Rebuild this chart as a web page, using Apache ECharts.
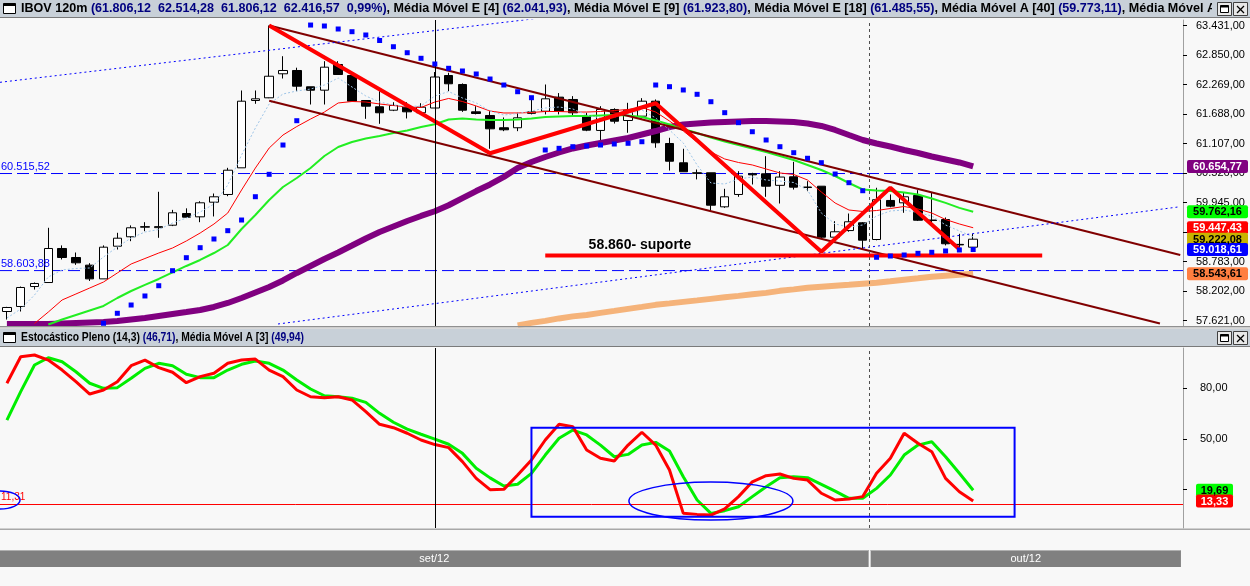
<!DOCTYPE html>
<html>
<head>
<meta charset="utf-8">
<title>IBOV 120m</title>
<script src="https://cdn.jsdelivr.net/npm/echarts@6.0.0/dist/echarts.min.js"></script>
<style>
html,body{margin:0;padding:0;background:#f8f8f8;overflow:hidden;}
#chart{width:1250px;height:586px;}
</style>
</head>
<body>
<div id="chart"></div>
<script>
// ---------------- DATA ----------------
const opens = [57798,57897,58290,58369,59039,58862,58711,58441,59084,59270,59458,59450,59498,59728,59663,59951,60103,60628,61954,62007,62480,62545,62224,62157,62663,62446,61954,61830,61763,61822,61712,61806.12,62446,62269,61731,61659,61417,61417,61700,61743,62020,61974,61633,61364,61777,61560,61645,61940,61107,60727,60530,60530,59860,60103,60510,60510,60283,60451,60250,60266,59262,59392,59545,59216,59985,59939,60083,59600,59610,59120,59065];
const closes = [57877,58271,58350,59039,58862,58757,58441,59065,59242,59447,59470,59470,59742,59656,59939,60057,60581,61940,61987,62432,62545,62236,62157,62610,62466,61940,61842,61712,61856,61731,61822,62416.57,62283,61763,61698,61396,61377,61613,61730,61987,61743,61712,61370,61777,61546,61763,61940,61121,60758,60550,60520,59892,60057,60464,60490,60266,60446,60247,60240,59262,59368,59565,59203,60000,59873,60057,59596,59590,59132,59110,59222.08];
const lows = [57640,57798,58230,58369,58823,58717,58400,58441,59019,59183,59380,59250,59480,59640,59557,59670,60069,60628,61889,62000,62387,62137,61875,61875,62466,61940,61593,61495,61745,61600,61700,61806.12,62137,61730,61680,61003,61350,61350,61680,61680,61680,61650,61350,61152,61500,61318,61600,61023,60575,60550,60400,59774,59840,60057,60300,60057,59925,60200,60168,59230,59230,59370,59019,59200,59850,59742,59580,59545,59100,59019,59050];
const highs = [57890,58290,58370,59447,59100,58960,58750,59100,59348,59494,59557,60156,59800,59830,59970,60122,60628,62151,62151,63431,62826,62600,62224,62728,62728,62446,61954,62137,61920,61920,61900,62514.28,62500,62290,61842,61743,61620,61712,62040,62269,62100,62040,61712,61842,61800,61908,62000,61974,61219,61003,60595,60530,60215,60562,60530,60857,60562,60746,60365,60266,59577,59728,59560,60235,60103,60135,60188,60135,59650,59328,59328];

const ema4 = [57670,57847,58123,58478,58616,58646,58655,58872,59069,59246,59364,59413,59541,59640,59758,59915,60289,60880,61412,61885,62082,62141,62180,62259,62397,62220,62043,61924,61865,61836,61846,62041.93,62131,62003,61905,61747,61668,61698,61747,61806,61826,61787,61668,61609,61629,61688,61767,61609,61373,61117,60684,60329,60309,60408,60447,60388,60368,60339,60191,59738,59522,59462,59502,59679,59778,59797,59748,59679,59502,59384,59266];
const ema9 = [null,null,57562,57788,58025,58143,58261,58379,58557,58734,58842,58950,59049,59187,59344,59521,59738,60191,60624,61018,61274,61441,61589,61727,61905,61934,61924,61885,61855,61826,61816,61923.80,61994,61934,61846,61747,61708,61708,61718,61737,61737,61727,61727,61737,61757,61777,61816,61727,61550,61353,61137,60940,60802,60733,60684,60605,60526,60497,60388,60152,59935,59797,59768,59787,59827,59866,59817,59738,59610,59522,59447.43];
const ema18 = [null,null,null,57542,57641,57730,57818,57907,58064,58202,58321,58439,58567,58695,58813,58950,59108,59423,59698,59994,60250,60428,60624,60861,61038,61137,61205,61255,61314,61363,61432,61485.55,61580,61600,61580,61570,61570,61580,61600,61629,61639,61649,61649,61659,61668,61659,61629,61560,61481,61393,61314,61225,61146,61077,61009,60939,60861,60782,60684,60585,60467,60329,60201,60181,60171,60142,60102,60024,59937,59839,59762.16];
const sma40 = [57552,57552,57552,57552,57562,57572,57582,57592,57611,57641,57670,57710,57749,57788,57828,57887,57966,58064,58173,58281,58409,58557,58695,58833,58961,59098,59236,59364,59473,59581,59680,59773.11,59890,60030,60170,60300,60450,60625,60743,60841,60930,61009,61067,61117,61166,61215,61284,61353,61432,61481,61501,61520,61530,61540,61550,61550,61540,61530,61501,61452,61373,61274,61176,61107,61048,60979,60920,60851,60792,60733,60654.77];
const smaLong = [null,null,null,null,null,null,null,null,null,null,null,null,null,null,null,null,null,null,null,null,null,null,null,null,null,null,null,null,null,null,null,null,null,null,null,null,null,57525,57574,57613,57662,57702,57731,57771,57810,57850,57889,57929,57958,57988,58017,58047,58077,58106,58136,58165,58205,58234,58264,58284,58304,58323,58343,58363,58392,58422,58451,58481,58501,58520,58543.61];
const sar = [null,null,null,null,null,null,null,57566,57763,57926,58104,58306,58602,58858,59055,59226,59390,59600,60059,60500,61077,61556,63440,63421,63362,63309,63244,63136,63013,62895,62785,62673,62588,62535,62476,62377,62259,62127,62009,60979,61012,61044,61058,61077,61097,61111,61142,62259,62226,62161,62076,61930,61714,61517,61339,61176,61044,60926,60816,60729,60506,60335,60177,58866,58891,58911,58944,58964,58990,59010,59018.61];

const stochK = [83.0,98.7,99.7,96.7,90.8,83.9,76.6,79.0,83.9,93.4,96.7,92.2,89.5,83.3,86.9,88.9,94.8,96.7,97.3,90.8,86.9,79.0,75.0,74.4,75.0,73.1,66.2,58.7,56.7,53.4,49.4,46.71,44.9,36.6,26.7,20.0,20.2,28.7,37.6,49.4,58.7,57.3,43.5,38.6,37.0,46.4,54.0,46.4,31.7,6.0,5.4,5.0,8.6,15.9,24.7,28.3,29.3,26.7,25.7,17.9,13.9,14.5,15.9,29.7,38.6,53.4,47.5,42.5,26.7,18.8,13.33];
const stochD = [61.2,78.0,93.8,98.1,95.7,89.8,83.0,80.0,80.4,85.9,91.8,94.8,93.4,88.3,86.3,86.3,90.8,94.2,96.2,94.8,90.8,84.9,79.6,75.6,75.0,74.1,71.7,65.2,59.9,55.9,52.8,49.94,46.9,41.5,32.7,27.0,22.2,23.2,29.7,40.5,50.4,55.3,52.4,46.4,39.5,40.9,46.4,48.0,42.9,27.7,13.9,6.0,7.6,9.9,15.9,21.8,27.1,27.7,27.1,23.2,19.2,14.9,14.9,20.8,28.7,40.5,46.4,48.4,39.5,29.7,19.69];

const priceTicks = [57621,58202,58783,59364,59945,60526,61107,61688,62269,62850,63431];
const stochTicks = [20,50,80];
const hLevels = [60515.52, 58603.88];
const stochLevel = 11.31;
const monthLabels = ['set/12','out/12'];
const monthBoundary = 62.5;   // between candle 63 and 64
const cursorIdx = 31;

// drawn objects (candle index, price)
const zigzag = [[19,63431],[35,60915],[47,61900],[59,58976],[64,60237],[69,59023]];
const channelUpper = [[19,63431],[85,58911]];
const channelLower = [[19,61950],[83.53,57562]];
const dotUpper = [[-0.5,62312],[40,63622]];
const dotLower = [[19.64,57552],[85,59862]];
const supportLine = [[39,58900],[75,58900]];
const supportText = {x:45.86, y:59108, text:'58.860- suporte'};
const stochBox = {x0:38, x1:73, y0:4.0, y1:56.7};
const stochEllipses = [{cx:-0.5, cy:13.9, rx:1.45, ry:5.3},{cx:51.0, cy:13.3, rx:5.94, ry:11.2}];

const topTags = [
  [60654.77,'#800080','#ffffff'],
  [59762.16,'#00ff00','#000000'],
  [59447.43,'#ff0000','#ffffff'],
  [59222.08,'#c8b400','#000000'],
  [59018.61,'#0000ff','#ffffff'],
  [58543.61,'#ff7f40','#000000']
];
const bottomTags = [[19.69,'#00ff00','#000000'],[13.33,'#ff0000','#ffffff']];

const header1 = [['IBOV 120m ','n'],['(61.806,12  62.514,28  61.806,12  62.416,57  0,99%)','v'],[', Média Móvel E [4] ','n'],['(62.041,93)','v'],[', Média Móvel E [9] ','n'],['(61.923,80)','v'],[', Média Móvel E [18] ','n'],['(61.485,55)','v'],[', Média Móvel A [40] ','n'],['(59.773,11)','v'],[', Média Móvel A [200] (58.543,61)','n']];
const header2 = [['Estocástico Pleno (14,3) ','n'],['(46,71)','v'],[', Média Móvel A [3] ','n'],['(49,94)','v']];

// ---------------- CHART ----------------
const FONT = '"Liberation Sans", Arial, sans-serif';
function br(v, d){ d = d == null ? 2 : d; const p = Number(v).toFixed(d).split('.'); p[0] = p[0].replace(/\B(?=(\d{3})+(?!\d))/g,'.'); return p.join(','); }
const pair = arr => arr.map((v,i)=>[i, v == null ? '-' : v]);
const pts = arr => arr.map((v,i)=> v == null ? null : [i,v]).filter(Boolean);

const chart = echarts.init(document.getElementById('chart'));
const X_MIN = -0.5, X_MAX = 85.2;

function ln(arr, color, width, type, xi, z){
  return {type:'line', xAxisIndex:xi, yAxisIndex:xi, data:pair(arr), symbol:'none', showSymbol:false,
    lineStyle:{color:color, width:width, type:type||'solid'}, silent:true, z:z||3, animation:false};
}
function seg(points, color, width, type, z){
  return {type:'line', xAxisIndex:0, yAxisIndex:0, data:points, symbol:'none', showSymbol:false,
    lineStyle:{color:color, width:width, type:type||'solid'}, silent:true, z:z||4, clip:true, animation:false};
}

const option = {
  backgroundColor:'#f8f8f8',
  animation:false,
  grid:[
    {left:0, right:67, top:20, height:306},
    {left:0, right:67, top:348, height:180}
  ],
  xAxis:[
    {type:'value', gridIndex:0, min:X_MIN, max:X_MAX, show:false},
    {type:'value', gridIndex:1, min:X_MIN, max:X_MAX, show:false}
  ],
  yAxis:[
    {type:'value', gridIndex:0, position:'right', min:57512.6, max:63539.3,
      splitLine:{show:false},
      axisLine:{show:true, onZero:false, lineStyle:{color:'#a0a0a0', width:1}},
      axisTick:{show:true, length:4, lineStyle:{color:'#000'}, customValues:priceTicks},
      axisLabel:{show:true, customValues:priceTicks, formatter:v=>br(v), color:'#000', fontSize:11, fontFamily:FONT, margin:13}},
    {type:'value', gridIndex:1, position:'right', min:-2.66, max:103.85,
      splitLine:{show:false},
      axisLine:{show:true, onZero:false, lineStyle:{color:'#a0a0a0', width:1}},
      axisTick:{show:true, length:4, lineStyle:{color:'#000'}, customValues:stochTicks},
      axisLabel:{show:true, customValues:stochTicks, formatter:v=>br(v), color:'#000', fontSize:11, fontFamily:FONT, margin:17}}
  ],
  series:[
    // horizontal blue dashed levels (full width)
    seg([[X_MIN, hLevels[0]],[X_MAX, hLevels[0]]], '#0000ff', 1, [12,5], 1),
    seg([[X_MIN, hLevels[1]],[X_MAX, hLevels[1]]], '#0000ff', 1, [12,5], 1),
    {type:'candlestick', xAxisIndex:0, yAxisIndex:0,
      data: closes.map((c,i)=>[i, opens[i], c, lows[i], highs[i]]),
      encode:{x:0, y:[1,2,3,4]}, barWidth:9, silent:true, z:2,
      itemStyle:{color:'#ffffff', color0:'#000000', borderColor:'#000000', borderColor0:'#000000', borderColorDoji:'#000000', borderWidth:1},
      markLine:{symbol:['none','none'], silent:true, animation:false, label:{show:false},
        data:[
          {xAxis:cursorIdx, lineStyle:{color:'#000000', width:1, type:'solid'}},
          {xAxis:monthBoundary, lineStyle:{color:'#505050', width:1, type:[3,3]}}
        ]}
    },
    ln(smaLong, '#f5b37a', 6, 'solid', 0),
    ln(sma40, '#800080', 6, 'solid', 0),
    ln(ema18, '#22ee22', 2, 'solid', 0),
    ln(ema9, '#ff0000', 1, 'solid', 0),
    ln(ema4, '#9ec5e8', 1, [2,2], 0),
    {type:'scatter', xAxisIndex:0, yAxisIndex:0, data:pts(sar), symbol:'rect', symbolSize:5,
      itemStyle:{color:'#0000ff', opacity:1}, silent:true, z:5, animation:false},
    seg(channelUpper, '#800000', 2),
    seg(channelLower, '#800000', 2),
    seg(dotUpper, '#0000ff', 1, [2,3]),
    seg(dotLower, '#0000ff', 1, [2,3]),
    seg(zigzag, '#ff0000', 4),
    seg(supportLine, '#ff0000', 4),
    ln(stochD, '#00ee00', 3, 'solid', 1),
    Object.assign(ln(stochK, '#ff0000', 3, 'solid', 1), {
      markLine:{symbol:['none','none'], silent:true, animation:false, label:{show:false},
        data:[
          {yAxis:stochLevel, lineStyle:{color:'#ff0000', width:1, type:'solid'}},
          {xAxis:cursorIdx, lineStyle:{color:'#000000', width:1, type:'solid'}},
          {xAxis:monthBoundary, lineStyle:{color:'#505050', width:1, type:[3,3]}}
        ]}
    })
  ]
};
chart.setOption(option);

// ---------------- overlay graphics ----------------
const mctx = document.createElement('canvas').getContext('2d');
function tw(t, font){ mctx.font = font; return mctx.measureText(t).width; }
const P = (gi, x, y) => chart.convertToPixel({gridIndex:gi}, [x, y]);

const G = [];
function buttons(y0){
  G.push({type:'rect', shape:{x:1212,y:y0,width:38,height:17}, style:{fill:'#c8d0d8'}, z:102, silent:true});
  G.push({type:'rect', shape:{x:1217.5,y:y0+2.5,width:14,height:13}, style:{fill:'#e8e8e8', stroke:'#404040', lineWidth:1}, z:103, silent:true});
  G.push({type:'rect', shape:{x:1220.5,y:y0+5.5,width:8,height:7}, style:{fill:'#ffffff', stroke:'#000', lineWidth:1}, z:104, silent:true});
  G.push({type:'rect', shape:{x:1220.5,y:y0+5.5,width:8,height:2}, style:{fill:'#000'}, z:104, silent:true});
  G.push({type:'rect', shape:{x:1233.5,y:y0+2.5,width:14,height:13}, style:{fill:'#e8e8e8', stroke:'#404040', lineWidth:1}, z:103, silent:true});
  G.push({type:'line', shape:{x1:1237,y1:y0+6,x2:1244,y2:y0+13}, style:{stroke:'#000', lineWidth:1.3}, z:104, silent:true});
  G.push({type:'line', shape:{x1:1244,y1:y0+6,x2:1237,y2:y0+13}, style:{stroke:'#000', lineWidth:1.3}, z:104, silent:true});
}
function header(y0, parts, measureText, target){
  G.push({type:'rect', shape:{x:0,y:y0,width:1250,height:17}, style:{fill:'#c8d0d8'}, z:100, silent:true});
  G.push({type:'rect', shape:{x:0,y:y0+17,width:1250,height:1}, style:{fill:'#7a7a7a'}, z:100, silent:true});
  G.push({type:'rect', shape:{x:3.5,y:y0+3.5,width:12,height:10}, style:{fill:'#ffffff', stroke:'#000', lineWidth:1}, z:101, silent:true});
  G.push({type:'rect', shape:{x:3.5,y:y0+3.5,width:12,height:2.5}, style:{fill:'#000'}, z:101, silent:true});
  const font = 'bold 12px "Liberation Sans"';
  const s = target / tw(measureText, font);
  const txt = parts.map(p => '{' + p[1] + '|' + p[0].replace(/[{}|]/g,'') + '}').join('');
  G.push({type:'group', x:21, y:y0+9, scaleX:s, z:101, silent:true, children:[
    {type:'text', z:101, style:{text:txt, fontSize:12, fontWeight:'bold', fontFamily:FONT, verticalAlign:'middle', align:'left',
      rich:{n:{fill:'#000000', fontSize:12, fontWeight:'bold', fontFamily:FONT}, v:{fill:'#000080', fontSize:12, fontWeight:'bold', fontFamily:FONT}}}}
  ]});
  buttons(y0);
}
const m1 = header1.slice(0,10).map(p=>p[0]).join('') + ', Média Móvel ';
header(0, header1, m1, 1186);
G.push({type:'rect', shape:{x:0,y:326,width:1250,height:1.5}, style:{fill:'#909090'}, z:100, silent:true});
G.push({type:'rect', shape:{x:0,y:327.5,width:1250,height:1.5}, style:{fill:'#d8d8d8'}, z:100, silent:true});
header(329, header2, header2.map(p=>p[0]).join(''), 283);
G.push({type:'rect', shape:{x:0,y:528.5,width:1250,height:1.5}, style:{fill:'#a8a8a8'}, z:100, silent:true});

// left labels for the blue horizontal levels
hLevels.forEach(v => {
  const y = chart.convertToPixel({yAxisIndex:0}, v);
  G.push({type:'text', x:1, y:y-1, z:100, silent:true, style:{text:br(v), fill:'#0000ff', fontSize:11, fontFamily:FONT, verticalAlign:'bottom', align:'left'}});
});
// support label
{
  const p = P(0, supportText.x, supportText.y);
  G.push({type:'text', x:p[0], y:p[1], z:100, silent:true, style:{text:supportText.text, fill:'#000', fontSize:14, fontWeight:'bold', fontFamily:FONT, align:'center', verticalAlign:'middle'}});
}
// stochastic level label
{
  const y = chart.convertToPixel({yAxisIndex:1}, stochLevel);
  G.push({type:'text', x:1, y:y-2, z:100, silent:true, style:{text:br(stochLevel), fill:'#ff0000', fontSize:10, fontFamily:FONT, verticalAlign:'bottom', align:'left'}});
}
// box + ellipses in the stochastic pane
{
  const a = P(1, stochBox.x0, stochBox.y1), b = P(1, stochBox.x1, stochBox.y0);
  G.push({type:'rect', z:100, silent:true, shape:{x:a[0], y:a[1], width:b[0]-a[0], height:b[1]-a[1]}, style:{fill:'none', stroke:'#0000ff', lineWidth:2}});
  stochEllipses.forEach(e => {
    const c = P(1, e.cx, e.cy), r = P(1, e.cx + e.rx, e.cy + e.ry);
    G.push({type:'ellipse', z:100, silent:true, shape:{cx:c[0], cy:c[1], rx:Math.abs(r[0]-c[0]), ry:Math.abs(c[1]-r[1])}, style:{fill:'none', stroke:'#0000ff', lineWidth:1.5}});
  });
}
// value tags on the right axis
function tag(axis, v, bg, fg, x, w){
  const y = chart.convertToPixel({yAxisIndex:axis}, v);
  G.push({type:'rect', z:110, silent:true, shape:{x:x, y:y-6.5, width:w, height:13, r:2}, style:{fill:bg}});
  G.push({type:'text', z:111, silent:true, x:x+w/2, y:y+0.5, style:{text:br(v), fill:fg, fontSize:11, fontWeight:'bold', fontFamily:FONT, align:'center', verticalAlign:'middle'}});
}
topTags.forEach(t => tag(0, t[0], t[1], t[2], 1187, 61));
bottomTags.forEach(t => tag(1, t[0], t[1], t[2], 1196, 37));

// month bar
{
  const x0 = P(1, X_MIN, 0)[0], xb = P(1, monthBoundary, 0)[0], x1 = P(1, 85.05, 0)[0];
  const segs = [[x0, xb - 1, monthLabels[0]], [xb + 1, x1, monthLabels[1]]];
  segs.forEach(s => {
    G.push({type:'rect', z:100, silent:true, shape:{x:s[0], y:550, width:s[1]-s[0], height:17}, style:{fill:'#808080'}});
    G.push({type:'rect', z:100, silent:true, shape:{x:s[0], y:550, width:s[1]-s[0], height:1}, style:{fill:'#b0b0b0'}});
    G.push({type:'text', z:101, silent:true, x:(s[0]+s[1])/2, y:559, style:{text:s[2], fill:'#ffffff', fontSize:11, fontFamily:FONT, align:'center', verticalAlign:'middle'}});
  });
}
chart.setOption({graphic:G});
</script>
</body>
</html>
